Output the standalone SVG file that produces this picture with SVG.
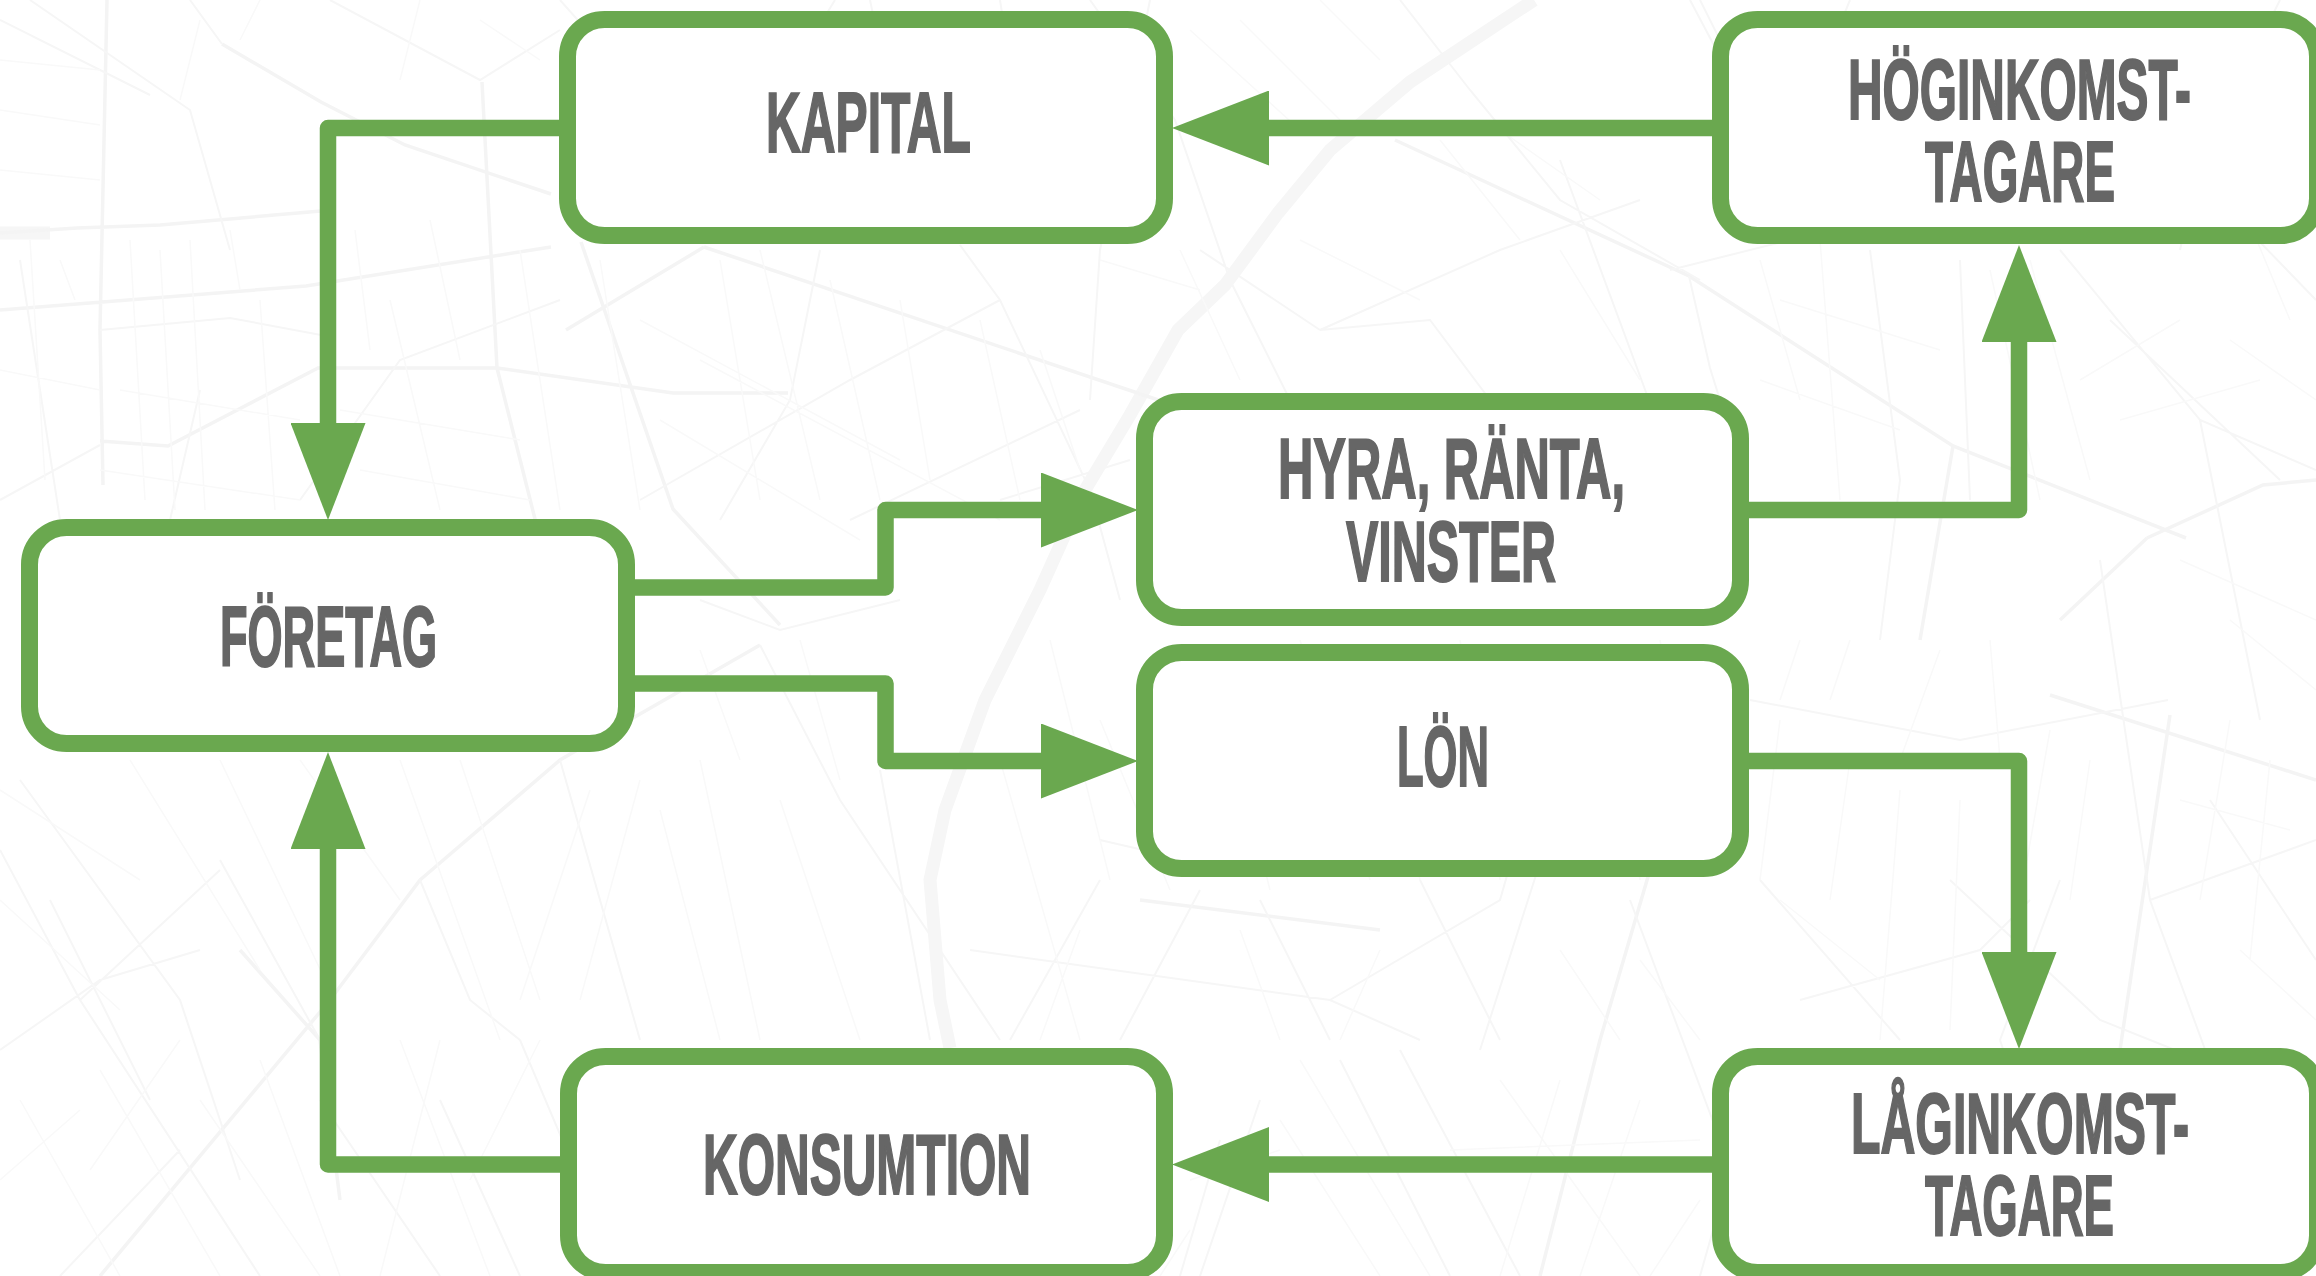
<svg xmlns="http://www.w3.org/2000/svg" width="2316" height="1276" viewBox="0 0 2316 1276">
<style>
.m0{fill:none;stroke:#f9f9f9;stroke-width:1.5}
.m1{fill:none;stroke:#f6f6f6;stroke-width:2}
.m2{fill:none;stroke:#f4f4f4;stroke-width:3.5}
.m3{fill:none;stroke:#f6f6f6;stroke-width:13}
.box{fill:#fff;stroke:#6aa84f;stroke-width:17}
.con{fill:none;stroke:#6aa84f;stroke-width:16.5;stroke-linejoin:round;marker-end:url(#head)}
.lab{font-family:"Liberation Sans Narrow","Liberation Sans",Arial,sans-serif;font-weight:700;font-size:86px;fill:#666;stroke:#666;stroke-width:2;stroke-linejoin:miter}
</style>
<defs>
<marker id="head" markerUnits="userSpaceOnUse" markerWidth="97" markerHeight="75" viewBox="0 0 97 75" refX="0" refY="37.5" orient="auto"><polygon points="0,0 97,37.5 0,75" fill="#6aa84f"/></marker>
</defs>
<rect width="2316" height="1276" fill="#fff"/>
<g id="map">
<path class="m3" d="M1534 0L1410 82L1330 150L1278 213L1225 285L1178 330L1130 415L1085 490L1040 590L985 700L945 810L930 880L940 1000L950 1048M0 233H50"/>
<path class="m2" d="M107 0L100 330L103 485M0 233L77 228L160 225L321 211M222 44L321 102L405 145L551 194M482 82L497 368L536 523M581 242L673 509L780 625M704 247L1194 412M566 330L704 247M100 441L168 446L318 368L497 368L673 393L788 393M0 310L306 286L551 247M2147 538L2263 485L2316 480M2060 620L2147 538M1395 140L1689 276L1953 446L2186 538M1953 446L1920 640M2170 715L2120 1050M2050 695L2316 780M1140 900L1380 930M240 950L320 1040L340 1200M100 1276L330 1000L420 880M420 880L560 760L760 645M1540 1276L1600 1040L1700 700"/>
<path class="m1" d="M100 330L230 318L321 335M1689 276L1710 368L1720 400M1670 270L1950 200M2110 320L2280 480M1750 700L1960 740L2168 700M970 950L1330 1000L1420 1040M1100 840L1230 870M0 1050L100 980L200 950M1330 1000L1500 900L1540 760M0 20L150 95M30 0L190 110L230 250M190 0L222 44M330 0L480 80L560 30M560 0L640 90L720 160M835 0L780 90M1090 0L1175 120L1230 280L1290 400M1400 0L1470 90L1560 200L1700 280M1690 0L1780 170M1850 0L1780 170M1200 250L1320 330M1320 330L1430 320L1520 440L1560 620M1560 160L1660 430L1720 420M1320 330L1500 250L1640 200M1870 250L1900 480L1880 640M1960 260L1970 500M2060 250L2200 420L2316 470M2100 70L2316 190M2200 180L2316 300M2280 0L2200 160L2180 250M2200 420L2260 720M2100 560L2150 900L2220 1090M1150 0L1100 250L1090 400M870 0L920 240M1000 0L1020 130M960 245L1000 300L1090 490L1120 600M640 500L850 380L1000 300M820 250L790 400L720 520M200 390L170 520M300 500L400 360L560 300M20 260L60 520M0 500L100 445M0 850L80 1000L260 1276M80 1000L220 870M20 780L180 1000L240 1180M50 900L150 1100M220 860L320 1040M420 880L470 1000L520 1040M560 760L640 1040M760 645L840 800L1000 1040M880 770L930 1040M1100 880L1010 1040M1200 890L1120 1040M1260 900L1330 1040M1420 880L1500 1040M1560 800L1480 1050M1630 900L1720 1140M1760 880L1900 1040M1800 1000L1980 950L2030 900M1950 880L2100 1020L2200 1060M2060 880L2000 1040M2210 800L2316 960M2150 900L2316 840M1750 1100L1700 1276M1400 1050L1520 1276M1200 1276L1260 1100M1450 1276L1340 1060M1180 1276L1220 1140M2000 1040L2020 1100M720 1276L760 1160M520 1040L620 1276M440 1100L520 1276M320 1100L440 1276M60 1276L180 1150M850 520L1080 410M1000 500L1130 460M700 600L780 630L900 600M1760 120L1700 0"/>
<path class="m0" d="M0 60L100 70M0 110L100 125M0 170L100 180M30 240L45 480M60 260L75 300M130 240L145 500M160 250L175 510M190 240L205 510M230 230L240 290M260 300L275 510M355 230L370 350M390 300L440 510M430 220L460 360M520 250L560 510M600 260L640 510M720 260L760 500M760 250L820 500M830 280L880 500M900 300L930 480M980 320L1020 500M1040 350L1080 470M640 320L900 460M660 420L860 540M700 360L1000 520M120 390L300 420M100 470L300 500M340 410L520 440M360 470L530 500M0 370L100 390M200 20L180 100M260 0L240 40M420 0L400 80M480 20L540 60M1190 30L1300 130M1240 20L1340 120M1320 0L1380 60M1440 140L1520 240M1500 130L1600 200M1560 250L1640 380M1300 240L1420 300M1180 250L1240 380M1200 290L1100 260M1760 260L1800 400M1820 240L1840 500M1780 300L1940 350M1760 380L1900 430M1990 270L2040 500M2030 260L2090 480M2080 380L2180 320M2120 420L2260 380M2240 200L2290 320M2260 30L2316 90M2230 340L2316 400M2180 560L2316 620M2230 620L2316 690M1800 640L1780 700M1850 640L1830 700M1940 650L1900 760M1990 640L2000 760M2050 730L2020 900M2090 760L2070 900M2180 800L2290 830M2230 720L2200 900M2270 760L2250 960M1780 720L1760 880M1850 760L1830 900M1900 790L1880 1040M1960 800L1950 1030M1780 900L1880 980M2120 1060L2200 1160M2200 1060L2316 1140M2240 950L2316 1020M1050 640L1110 880M1000 760L1080 1040M1100 720L1170 890M1210 650L1270 890M1300 640L1370 880M1370 650L1420 880M1460 640L1500 880M1540 660L1560 800M1600 660L1640 880M1660 640L1700 860M1240 930L1280 1040M1380 950L1340 1040M1560 950L1620 1040M1640 960L1700 1040M1080 930L1040 1040M700 760L760 1040M660 810L720 1040M800 640L840 780M700 650L740 760M780 800L860 1040M0 790L140 880M0 900L120 1010M130 760L260 970M220 760L330 990M300 760L400 900M400 760L500 1040M460 760L540 1000M590 790L520 1000M640 780L580 1000M20 1100L120 1276M100 1070L220 1276M200 1100L320 1276M0 1180L80 1110M180 1040L90 1170M260 1060L340 1276M400 1040L490 1276M440 1040L380 1276M540 1040L470 1180M1160 1276L1190 1230M1280 1120L1380 1276M1300 1060L1430 1276M1500 1080L1640 1276M1560 1080L1500 1276M1640 1100L1580 1276M1700 1200L1650 1276M1190 1180L1280 1150M1450 1150L1700 1140"/>
</g>
<g id="connectors">
<path class="con" d="M560 128H328V423"/>
<path class="con" d="M1713 128H1269"/>
<path class="con" d="M1749 510H2019V342"/>
<path class="con" d="M634 587.5H885.5V510H1041"/>
<path class="con" d="M634 683.5H885.5V761H1041"/>
<path class="con" d="M1749 761H2019V952"/>
<path class="con" d="M1713 1164.5H1269"/>
<path class="con" d="M561 1164.5H328V849"/>
</g>
<g id="kapital"><rect class="box" x="567.5" y="19.5" width="597" height="216" rx="37"/><text class="lab" x="766" y="152" textLength="205" lengthAdjust="spacingAndGlyphs">KAPITAL</text></g>
<g id="hoginkomst"><rect class="box" x="1720.5" y="19.5" width="597" height="216" rx="37"/><text class="lab" x="1848" y="119" textLength="343" lengthAdjust="spacingAndGlyphs">HÖGINKOMST-</text><text class="lab" x="1925" y="201" textLength="190" lengthAdjust="spacingAndGlyphs">TAGARE</text></g>
<g id="foretag"><rect class="box" x="29.5" y="527.5" width="597" height="216" rx="37"/><text class="lab" x="220" y="666" textLength="217" lengthAdjust="spacingAndGlyphs">FÖRETAG</text></g>
<g id="hyra"><rect class="box" x="1144.5" y="401.5" width="596" height="216" rx="37"/><text class="lab" x="1278" y="498" textLength="347" lengthAdjust="spacingAndGlyphs">HYRA, RÄNTA,</text><text class="lab" x="1346" y="581" textLength="210" lengthAdjust="spacingAndGlyphs">VINSTER</text></g>
<g id="lon"><rect class="box" x="1144.5" y="652.5" width="596" height="216" rx="37"/><text class="lab" x="1397" y="786" textLength="92" lengthAdjust="spacingAndGlyphs">LÖN</text></g>
<g id="konsumtion"><rect class="box" x="568.5" y="1056.5" width="596" height="216" rx="37"/><text class="lab" x="703" y="1194" textLength="328" lengthAdjust="spacingAndGlyphs">KONSUMTION</text></g>
<g id="laginkomst"><rect class="box" x="1720.5" y="1056.5" width="597" height="216" rx="37"/><text class="lab" x="1851" y="1153" textLength="338" lengthAdjust="spacingAndGlyphs">LÅGINKOMST-</text><text class="lab" x="1925" y="1235" textLength="189" lengthAdjust="spacingAndGlyphs">TAGARE</text></g>
</svg>
